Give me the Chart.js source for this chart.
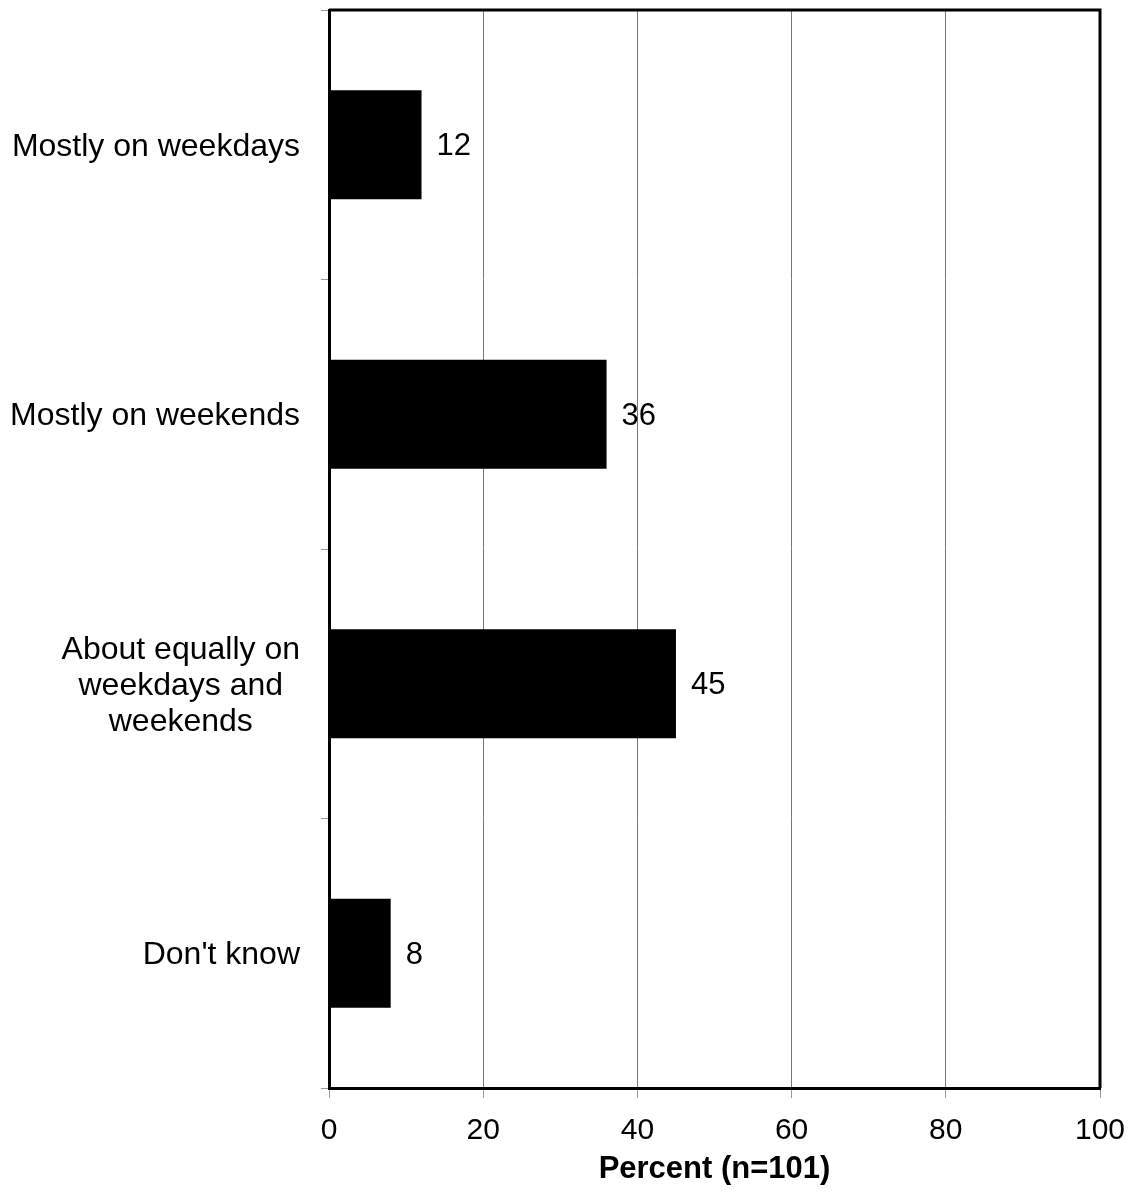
<!DOCTYPE html>
<html>
<head>
<meta charset="utf-8">
<script src="https://cdn.jsdelivr.net/npm/chart.js@4/dist/chart.umd.min.js"></script>
<style>
  html, body { margin: 0; padding: 0; background: #fff; }
  #wrap { width: 1131px; height: 1192px; position: relative; }
</style>
</head>
<body>
<div id="wrap"><canvas id="timing-chart"></canvas></div>
<script>
const categories = [
    ['Mostly on weekdays'],
    ['Mostly on weekends'],
    ['About equally on', 'weekdays and', 'weekends'],
    ["Don't know"]
];
const percentValues = [12, 36, 45, 8];
const xTicks = [0, 20, 40, 60, 80, 100];
const xTitle = 'Percent (n=101)';

const FONT = '"Liberation Sans", Arial, Helvetica, sans-serif';

// frame on top and right of the plot area
const framePlugin = {
    id: 'frame',
    afterDatasetsDraw(chart) {
        const { ctx, chartArea: a } = chart;
        ctx.save();
        ctx.strokeStyle = '#000';
        ctx.lineWidth = 3;
        ctx.beginPath();
        ctx.moveTo(a.left, a.top);
        ctx.lineTo(a.right, a.top);
        ctx.lineTo(a.right, a.bottom);
        ctx.stroke();
        ctx.restore();
    }
};

// category labels: each block right-aligned, lines centred inside it
const categoryLabelPlugin = {
    id: 'categoryLabels',
    afterDraw(chart) {
        const { ctx, chartArea: a } = chart;
        const yScale = chart.scales.y;
        ctx.save();
        ctx.font = '32px ' + FONT;
        ctx.fillStyle = '#000';
        ctx.textAlign = 'center';
        ctx.textBaseline = 'middle';
        const lineH = 36;
        categories.forEach((lines, i) => {
            const yc = yScale.getPixelForValue(i) + 2;
            const w = Math.max(...lines.map(l => ctx.measureText(l).width));
            const xc = a.left - 29 - w / 2;
            lines.forEach((l, j) => {
                ctx.fillText(l, xc, yc + (j - (lines.length - 1) / 2) * lineH);
            });
        });
        ctx.restore();
    }
};

// value labels at the end of each bar
const valueLabelPlugin = {
    id: 'valueLabels',
    afterDatasetsDraw(chart) {
        const { ctx } = chart;
        const meta = chart.getDatasetMeta(0);
        ctx.save();
        ctx.font = '31px ' + FONT;
        ctx.fillStyle = '#000';
        ctx.textAlign = 'left';
        ctx.textBaseline = 'middle';
        meta.data.forEach((bar, i) => {
            ctx.fillText(String(percentValues[i]), bar.x + 15, bar.y + 2);
        });
        ctx.restore();
    }
};

const timingChart = new Chart(document.getElementById('timing-chart').getContext('2d'), {
    type: 'bar',
    data: {
        labels: categories.map(c => c.join(' ')),
        datasets: [{
            data: percentValues,
            backgroundColor: '#000',
            borderWidth: 0,
            categoryPercentage: 1,
            barPercentage: 0.405
        }]
    },
    options: {
        indexAxis: 'y',
        responsive: true,
        maintainAspectRatio: false,
        animation: false,
        layout: {
            padding: { top: 10, right: 31, bottom: 0, left: 0 }
        },
        plugins: {
            legend: { display: false },
            tooltip: { enabled: false }
        },
        scales: {
            x: {
                min: 0,
                max: 100,
                afterBuildTicks: scale => {
                    scale.ticks = xTicks.map(v => ({ value: v }));
                },
                afterFit: scale => {
                    scale.height = 104;
                    scale.paddingLeft = 0;
                    scale.paddingRight = 0;
                },
                grid: {
                    color: '#777',
                    lineWidth: 1,
                    tickLength: 10,
                    tickColor: '#999'
                },
                border: { color: '#000', width: 3 },
                ticks: {
                    color: '#000',
                    padding: 15,
                    maxRotation: 0,
                    font: { family: FONT, size: 30 }
                },
                title: {
                    display: true,
                    text: xTitle,
                    color: '#000',
                    padding: { top: 0, bottom: 4 },
                    font: { family: FONT, size: 31, weight: 'bold' }
                }
            },
            y: {
                afterFit: scale => { scale.width = 329; },
                grid: {
                    offset: true,
                    drawOnChartArea: false,
                    tickLength: 8,
                    tickColor: '#999'
                },
                border: { color: '#000', width: 3 },
                ticks: { display: false }
            }
        }
    },
    plugins: [framePlugin, categoryLabelPlugin, valueLabelPlugin]
});
</script>
</body>
</html>
